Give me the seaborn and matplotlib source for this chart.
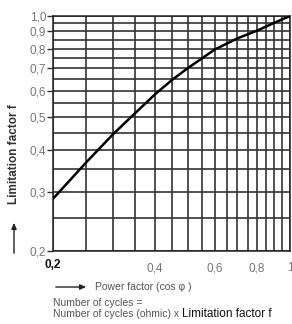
import matplotlib
matplotlib.use("Agg")
import matplotlib.pyplot as plt
import numpy as np
import pandas as pd
import seaborn as sns

# values
power_factor = [0.2, 0.25, 0.3, 0.35, 0.4, 0.45, 0.5, 0.6, 0.7, 0.8, 0.9, 1.0]
limitation = [0.286, 0.366, 0.444, 0.515, 0.585, 0.647, 0.70, 0.795, 0.858, 0.905, 0.955, 1.0]

grid_steps = [round(v, 2) for v in np.arange(0.2, 1.0001, 0.05)]
y_ticks = [1.0, 0.9, 0.8, 0.7, 0.6, 0.5, 0.4, 0.3, 0.2]
y_labels = ["1,0", "0,9", "0,8", "0,7", "0,6", "0,5", "0,4", "0,3", "0,2"]
x_ticks = [0.4, 0.6, 0.8, 1.0]
x_labels = ["0,4", "0,6", "0,8", "1"]

df = pd.DataFrame({"pf": power_factor, "f": limitation})

sns.set_style("white")
plt.rcParams["font.family"] = ["Liberation Sans", "DejaVu Sans"]

fig = plt.figure(figsize=(2.92, 3.24), dpi=100)
ax = fig.add_axes([53 / 292, 1 - 251 / 324, 237 / 292, 235 / 324])

ax.set_xscale("log")
ax.set_yscale("log")
ax.set_xlim(0.2, 1.0)
ax.set_ylim(0.2, 1.0)

# grid every 0.05 in both directions
for v in grid_steps:
    ax.axvline(v, color="#333333", lw=1.2, zorder=1)
    ax.axhline(v, color="#333333", lw=1.2, zorder=1)

sns.lineplot(data=df, x="pf", y="f", color="black", linewidth=1.8, ax=ax, zorder=3)

ax.set_yticks(y_ticks)
ax.set_yticklabels(y_labels)
ax.yaxis.set_minor_locator(matplotlib.ticker.NullLocator())
ax.set_xticks(x_ticks)
ax.set_xticklabels(x_labels)
ax.xaxis.set_minor_locator(matplotlib.ticker.NullLocator())
ax.tick_params(axis="y", direction="out", length=4, width=1, color="#333333",
               labelsize=8.5, labelcolor="#777777", pad=1, left=True)
ax.tick_params(axis="x", length=0, labelsize=8.5, labelcolor="#777777", pad=8)
ax.set_xlabel("")
ax.set_ylabel("")
for s in ax.spines.values():
    s.set_color("#222222")
    s.set_linewidth(1.1)

# bold first x label
ax.text(0.2, -0.033, "0,2", transform=ax.get_xaxis_transform(), ha="center", va="top",
        fontsize=8.5, fontweight="bold", color="#111111")

# y axis label with arrow
fig.text(14 / 292, 1 - 154 / 324, "Limitation factor f", rotation=90, ha="center", va="center",
         fontsize=8.5, fontweight="bold", color="#333333")
fig.add_artist(matplotlib.patches.FancyArrowPatch(
    (14 / 292, 1 - 256 / 324), (14 / 292, 1 - 220 / 324), transform=fig.transFigure,
    arrowstyle="-|>,head_length=3.5,head_width=1.5", color="#222222", lw=1))

# x axis label with arrow
fig.add_artist(matplotlib.patches.FancyArrowPatch(
    (53 / 292, 1 - 287 / 324), (89 / 292, 1 - 287 / 324), transform=fig.transFigure,
    arrowstyle="-|>,head_length=3.5,head_width=1.5", color="#222222", lw=1))
fig.text(95 / 292, 1 - 287 / 324, "Power factor (cos φ )", ha="left", va="center",
         fontsize=7.5, color="#555555")

# footnote
fig.text(53 / 292, 1 - 303 / 324, "Number of cycles =", ha="left", va="center",
         fontsize=7.5, color="#555555")
t1 = fig.text(53 / 292, 1 - 314 / 324, "Number of cycles (ohmic) x ", ha="left", va="center",
              fontsize=7.5, color="#555555")
fig.canvas.draw()
bb = t1.get_window_extent().transformed(fig.transFigure.inverted())
fig.text(bb.x1, 1 - 314 / 324, "Limitation factor f", ha="left", va="center",
         fontsize=8.5, color="#111111")

fig.savefig("out.png", dpi=100)
